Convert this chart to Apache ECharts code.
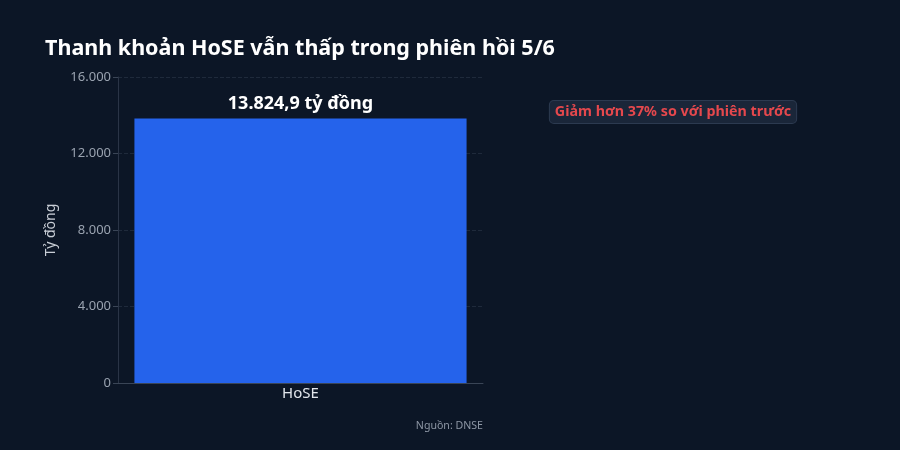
<!DOCTYPE html>
<html lang="vi">
<head>
    <meta charset="UTF-8">
    <title>Thanh khoản HoSE</title>
    <script src="https://cdn.jsdelivr.net/npm/echarts@6/dist/echarts.min.js"></script>
    <style>
        html, body { margin: 0; padding: 0; background: #0c1626; }
        #main { width: 900px; height: 450px; }
    </style>
</head>
<body>
    <div id="main"></div>
    <script>
        // dữ liệu
        var categories = ['HoSE'];
        var values = [13824.9];
        var yTicks = [0, 4000, 8000, 12000, 16000];
        var titleText = 'Thanh khoản HoSE vẫn thấp trong phiên hồi 5/6';
        var noteText = 'Giảm hơn 37% so với phiên trước';
        var sourceText = 'Nguồn: DNSE';

        var fontFamily = '"Noto Sans", "Open Sans", sans-serif';

        function fmt(v) {
            return v.toLocaleString('de-DE');
        }

        var myChart = echarts.init(document.getElementById('main'));
        myChart.setOption({
            backgroundColor: '#0c1626',
            textStyle: { fontFamily: fontFamily },
            title: {
                text: titleText,
                left: 45,
                top: 38,
                padding: 0,
                textStyle: { color: '#ffffff', fontSize: 21.5, fontWeight: 'bold', fontFamily: fontFamily }
            },
            grid: { left: 118, right: 417, top: 77, bottom: 67 },
            xAxis: {
                type: 'category',
                data: categories,
                axisLine: { lineStyle: { color: '#3a4556' } },
                axisTick: { show: false },
                axisLabel: { color: '#e2e6ec', fontSize: 15, margin: 3 }
            },
            yAxis: {
                type: 'value',
                min: yTicks[0],
                max: yTicks[yTicks.length - 1],
                interval: 4000,
                name: 'Tỷ đồng',
                nameLocation: 'middle',
                nameGap: 60,
                nameTextStyle: { color: '#c9ced6', fontSize: 14 },
                axisLine: { show: true, lineStyle: { color: '#2a3446' } },
                axisTick: { show: true, length: 5, lineStyle: { color: '#3a4556' } },
                axisLabel: {
                    color: '#9aa3b0',
                    fontSize: 13,
                    margin: 7,
                    formatter: function (v) { return fmt(v); }
                },
                splitLine: { lineStyle: { color: '#1f2a3b', type: 'dashed' } }
            },
            series: [{
                type: 'bar',
                data: values,
                barWidth: '91%',
                itemStyle: { color: '#2563eb' },
                label: {
                    show: true,
                    position: 'top',
                    distance: 6,
                    color: '#ffffff',
                    fontSize: 18,
                    fontWeight: 'bold',
                    formatter: function (p) {
                        return p.value.toLocaleString('de-DE', { minimumFractionDigits: 1 }) + ' tỷ đồng';
                    }
                }
            }],
            graphic: [{
                type: 'text',
                x: 673,
                y: 112,
                style: {
                    text: noteText,
                    fill: '#e5484d',
                    font: 'bold 14.3px ' + fontFamily,
                    align: 'center',
                    verticalAlign: 'middle',
                    backgroundColor: '#1a2639',
                    borderColor: '#2c3a50',
                    borderWidth: 1,
                    borderRadius: 4,
                    padding: [4, 5]
                }
            }, {
                type: 'text',
                x: 483,
                y: 426,
                style: {
                    text: sourceText,
                    fill: '#8e97a5',
                    font: '10.6px ' + fontFamily,
                    align: 'right',
                    verticalAlign: 'middle'
                }
            }]
        });
    </script>
</body>
</html>
